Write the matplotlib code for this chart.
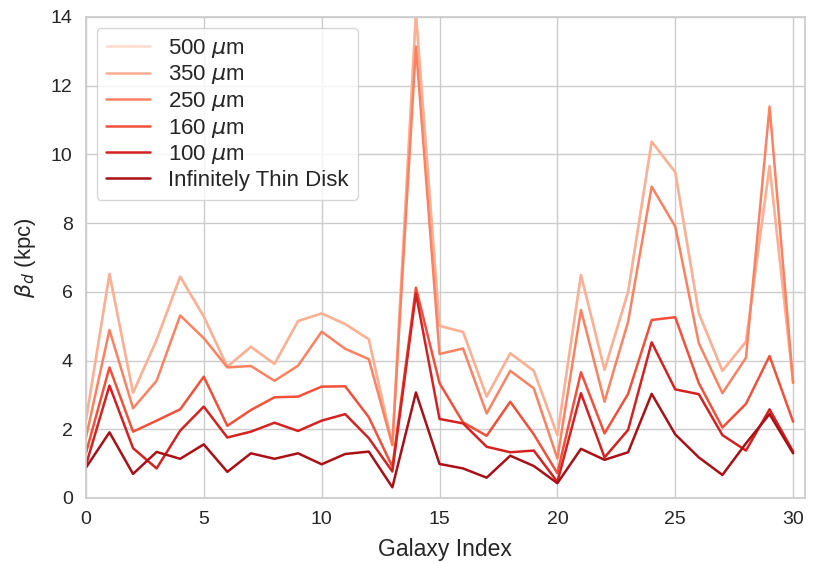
import numpy as np
import seaborn as sns
from matplotlib import pyplot as plt

# scale length per galaxy for each band
galaxy = np.arange(31)
beta_500 = [2.25, 6.52, 3.06, 4.6, 6.44, 5.28, 3.82, 4.4, 3.9, 5.15, 5.37,
            5.06, 4.62, 1.54, 14.1, 5.01, 4.83, 2.95, 4.21, 3.7, 1.83,
            6.49, 3.73, 6.0, 10.37, 9.48, 5.37, 3.7, 4.55, 9.66, 3.36]
beta_350 = [2.25, 6.52, 3.06, 4.6, 6.44, 5.28, 3.82, 4.4, 3.9, 5.15, 5.37,
            5.06, 4.62, 1.54, 14.1, 5.01, 4.83, 2.95, 4.21, 3.7, 1.83,
            6.49, 3.73, 6.0, 10.37, 9.48, 5.37, 3.7, 4.55, 9.66, 3.36]
beta_250 = [1.75, 4.89, 2.61, 3.41, 5.31, 4.65, 3.8, 3.84, 3.41, 3.85, 4.84,
            4.34, 4.04, 1.54, 13.14, 4.19, 4.35, 2.46, 3.7, 3.19, 1.15,
            5.47, 2.8, 5.13, 9.06, 7.9, 4.5, 3.05, 4.08, 11.39, 3.35]
beta_160 = [1.3, 3.8, 1.93, 2.25, 2.58, 3.53, 2.1, 2.56, 2.93, 2.95, 3.24,
            3.25, 2.35, 0.91, 6.12, 3.34, 2.2, 1.81, 2.8, 1.85, 0.72,
            3.66, 1.88, 3.03, 5.18, 5.26, 3.34, 2.05, 2.74, 4.13, 2.22]
beta_100 = [0.95, 3.27, 1.45, 0.86, 1.96, 2.66, 1.76, 1.93, 2.19, 1.95, 2.25,
            2.44, 1.74, 0.77, 5.95, 2.3, 2.17, 1.49, 1.33, 1.38, 0.47,
            3.05, 1.18, 1.98, 4.53, 3.16, 3.02, 1.83, 1.38, 2.58, 1.35]
beta_thin = [0.88, 1.91, 0.7, 1.34, 1.14, 1.56, 0.76, 1.3, 1.14, 1.3, 0.98,
             1.28, 1.35, 0.31, 3.07, 0.99, 0.86, 0.59, 1.23, 0.93, 0.43,
             1.43, 1.11, 1.33, 3.03, 1.85, 1.18, 0.67, 1.59, 2.44, 1.3]

labels = ["500 $\\mu$m", "350 $\\mu$m", "250 $\\mu$m", "160 $\\mu$m",
          "100 $\\mu$m", "Infinitely Thin Disk"]
series = [beta_500, beta_350, beta_250, beta_160, beta_100, beta_thin]

sns.set_theme(style="whitegrid")
plt.rcParams['font.family'] = ['Liberation Sans', 'DejaVu Sans']
colors = sns.color_palette("Reds", 6)

fig = plt.figure(figsize=(8.18, 5.63), dpi=100)
ax = fig.add_axes([0.105, 0.1155, 0.879, 0.8545])
for vals, lab, c in zip(series, labels, colors):
    ax.plot(galaxy, vals, "-", color=c, lw=1.8, label=lab)

ax.set_xlim(0, 30.5)
ax.set_ylim(0, 14)
ax.set_xticks([0, 5, 10, 15, 20, 25, 30])
ax.set_yticks(np.arange(0, 15, 2))
ax.tick_params(labelsize=14)
ax.set_xlabel("Galaxy Index", fontsize=16.5, labelpad=7)
ax.set_ylabel("$\\beta_d$ (kpc)", fontsize=16, labelpad=9)
ax.legend(loc="upper left", fontsize=16, handlelength=2.0,
          handletextpad=0.8, labelspacing=0.16, borderaxespad=0.5)

fig.savefig("out.png", dpi=100)
